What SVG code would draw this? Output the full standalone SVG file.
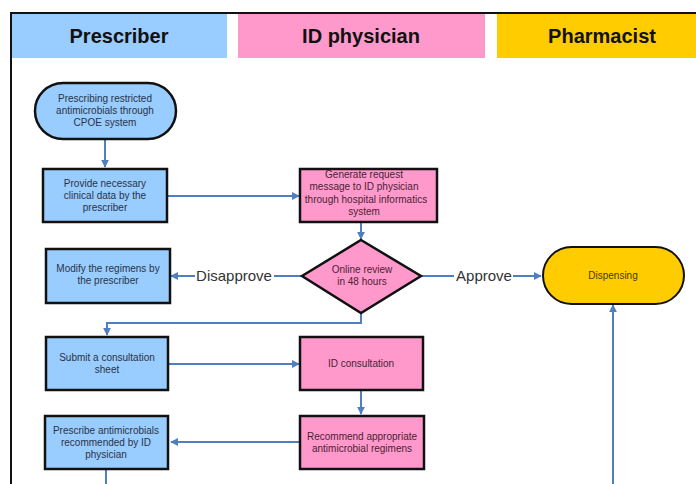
<svg xmlns="http://www.w3.org/2000/svg" width="696" height="484" viewBox="0 0 696 484">
<style>
.hdr{font-family:"Liberation Sans",Arial,sans-serif;font-size:20px;font-weight:bold;fill:#111;text-anchor:middle}
.t{font-family:"Liberation Sans",Arial,sans-serif;font-size:10px;fill:#2a3344;text-anchor:middle}
.tp{font-family:"Liberation Sans",Arial,sans-serif;font-size:10px;fill:#4a2233;text-anchor:middle}
.lbl{font-family:"Liberation Sans",Arial,sans-serif;font-size:15px;fill:#333;text-anchor:middle}
.blue{fill:#99CCFF;stroke:#111;stroke-width:2.5}
.pink{fill:#FF99CC;stroke:#111;stroke-width:2.5}
.yel{fill:#FFCC00;stroke:#111;stroke-width:2}
.c{fill:none;stroke:#4F7FC0;stroke-width:2}
</style>
<defs>
<marker id="ah" viewBox="0 0 10 10" refX="9" refY="5" markerWidth="4" markerHeight="4" orient="auto">
<path d="M0,0 L10,5 L0,10 z" fill="#4F7FC0"/>
</marker>
</defs>
<rect width="696" height="484" fill="#fff"/>
<g id="frame">
<line x1="10" y1="13" x2="696" y2="13" stroke="#111" stroke-width="2"/>
<line x1="11" y1="12" x2="11" y2="484" stroke="#111" stroke-width="2"/>
</g>
<g id="lane-prescriber"><rect x="12" y="14" width="215" height="44" fill="#99CCFF"/><text class="hdr" x="119" y="43">Prescriber</text></g>
<g id="lane-id"><rect x="238" y="14" width="247" height="44" fill="#FF99CC"/><text class="hdr" x="361" y="43">ID physician</text></g>
<g id="lane-pharm"><rect x="497" y="14" width="199" height="44" fill="#FFCC00"/><text class="hdr" x="602" y="43">Pharmacist</text></g>

<g id="connectors">
<line class="c" x1="105" y1="139" x2="105" y2="167" marker-end="url(#ah)"/>
<line class="c" x1="167" y1="196" x2="299" y2="196" marker-end="url(#ah)"/>
<line class="c" x1="361" y1="222" x2="361" y2="239" marker-end="url(#ah)"/>
<line class="c" x1="302" y1="276" x2="274" y2="276"/>
<line class="c" x1="195" y1="276" x2="171" y2="276" marker-end="url(#ah)"/>
<line class="c" x1="421" y1="276" x2="454" y2="276"/>
<line class="c" x1="513" y1="276" x2="541" y2="276" marker-end="url(#ah)"/>
<polyline class="c" points="361,313 361,323 107,323 107,335" marker-end="url(#ah)"/>
<line class="c" x1="168" y1="364" x2="299" y2="364" marker-end="url(#ah)"/>
<line class="c" x1="361" y1="390" x2="361" y2="414" marker-end="url(#ah)"/>
<line class="c" x1="300" y1="442" x2="171" y2="442" marker-end="url(#ah)"/>
<line class="c" x1="106" y1="469" x2="106" y2="484"/>
<line class="c" x1="613" y1="484" x2="613" y2="305" marker-end="url(#ah)"/>
<text class="lbl" x="234" y="281">Disapprove</text>
<text class="lbl" x="484" y="281">Approve</text>
</g>

<g id="start"><rect class="blue" x="35" y="83" width="141" height="56" rx="28" ry="28"/>
<text class="t" x="105" y="102">Prescribing restricted</text><text class="t" x="105" y="114">antimicrobials through</text><text class="t" x="105" y="126">CPOE system</text></g>
<g id="provide"><rect class="blue" x="43" y="169" width="124" height="53"/>
<text class="t" x="105" y="187">Provide necessary</text><text class="t" x="105" y="199">clinical data by the</text><text class="t" x="105" y="211">prescriber</text></g>
<g id="generate"><rect class="pink" x="300" y="169" width="137" height="53"/>
<text class="tp" x="364" y="178">Generate request</text><text class="tp" x="364" y="190">message to ID physician</text><text class="tp" x="366" y="203">through hospital informatics</text><text class="tp" x="364" y="215">system</text></g>
<g id="review"><polygon class="pink" points="361,240 421,276 361,313 302,276"/>
<text class="tp" x="362" y="273">Online review</text><text class="tp" x="362" y="285">in 48 hours</text></g>
<g id="modify"><rect class="blue" x="46" y="249" width="124" height="54"/>
<text class="t" x="108" y="272">Modify the regimens by</text><text class="t" x="108" y="284">the prescriber</text></g>
<g id="dispensing"><rect class="yel" x="543" y="247" width="141" height="57" rx="28.5" ry="28.5"/>
<text class="t" x="613" y="279" style="fill:#4a3a00">Dispensing</text></g>
<g id="submit"><rect class="blue" x="46" y="337" width="122" height="53"/>
<text class="t" x="107" y="361">Submit a consultation</text><text class="t" x="107" y="373">sheet</text></g>
<g id="consult"><rect class="pink" x="300" y="337" width="123" height="53"/>
<text class="tp" x="361" y="367">ID consultation</text></g>
<g id="recommend"><rect class="pink" x="300" y="416" width="124" height="53"/>
<text class="tp" x="362" y="440">Recommend appropriate</text><text class="tp" x="362" y="452">antimicrobial regimens</text></g>
<g id="prescribe"><rect class="blue" x="45" y="416" width="123" height="53"/>
<text class="t" x="106" y="434">Prescribe antimicrobials</text><text class="t" x="106" y="446">recommended by ID</text><text class="t" x="106" y="458">physician</text></g>
</svg>
